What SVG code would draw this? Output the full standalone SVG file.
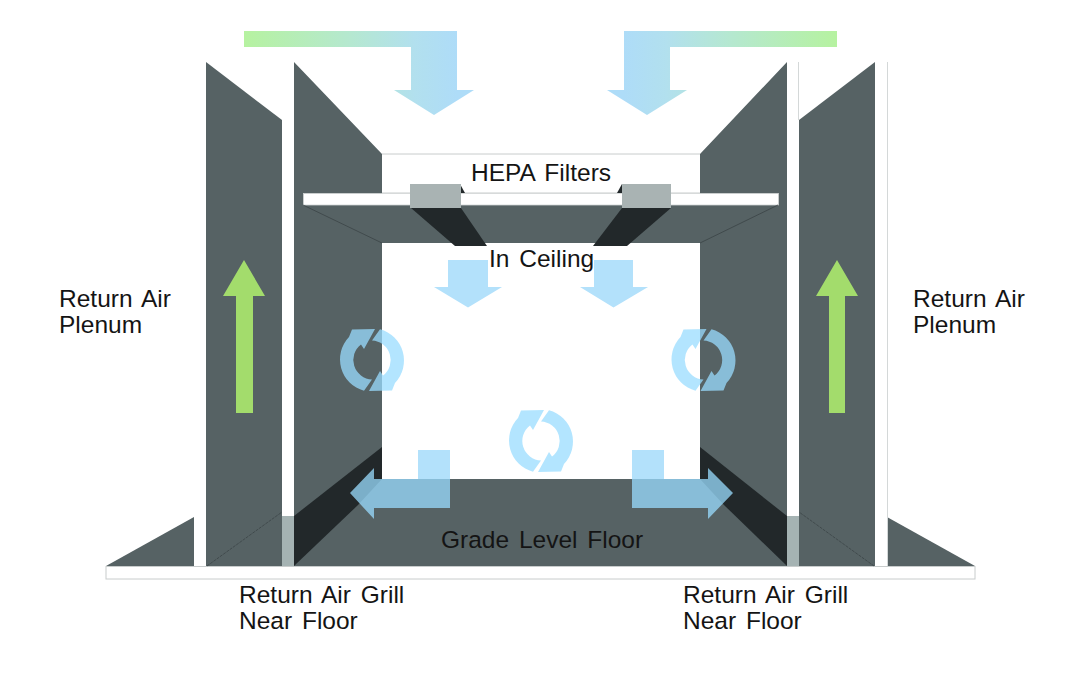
<svg xmlns="http://www.w3.org/2000/svg" width="1080" height="675" viewBox="0 0 1080 675">
<style>
.wall{fill:#566264}
.grill{fill:#22282a}
.seam{fill:none;stroke:#3b4446;stroke-width:.8}
.edge{fill:#fff;stroke:#c8cccc;stroke-width:1}
.blue{fill:#9adcff;fill-opacity:.75}
.solid{fill:#b3e1fb}
.green{fill:#a3dc6c}
.filter{fill:#a9b3b3}
.strip{fill:#a5b3b3}
text{font-family:"Liberation Sans",Arial,sans-serif;font-size:24.500px;fill:#141414;word-spacing:3px}
</style>
<defs>
<linearGradient id="gl" gradientUnits="userSpaceOnUse" x1="244" y1="0" x2="457" y2="0"><stop offset="0" stop-color="#b6f2a0"/><stop offset=".5" stop-color="#b5e8d0"/><stop offset=".8" stop-color="#b2e0ee"/><stop offset="1" stop-color="#aedcf8"/></linearGradient>
<linearGradient id="gr" gradientUnits="userSpaceOnUse" x1="837" y1="0" x2="624" y2="0"><stop offset="0" stop-color="#b6f2a0"/><stop offset=".5" stop-color="#b5e8d0"/><stop offset=".8" stop-color="#b2e0ee"/><stop offset="1" stop-color="#aedcf8"/></linearGradient>
<g id="ring" class="blue">
<path d="M-8 30.800A32.500 32.500 0 0 1-23-23L-20-30.500L3-31L-8-11L-11-15.500A19.500 19.500 0 0 0 0 19.500Z"/>
<path d="M-8 30.800A32.500 32.500 0 0 1-23-23L-20-30.500L3-31L-8-11L-11-15.500A19.500 19.500 0 0 0 0 19.500Z" transform="rotate(180)"/>
</g>
</defs>
<g id="floor-slab"><rect class="edge" x="106" y="566.500" width="869" height="12.500"/></g>
<g id="back-wall"><path d="M382 154H700" stroke="#c8cccc" fill="none"/><path d="M382 193H700" stroke="#c8cccc" fill="none"/></g>
<g id="left-outer-triangle"><path class="wall" d="M106 566L194 517V566Z"/></g>
<g id="right-outer-triangle"><path class="wall" d="M975 566L887 517V566Z"/></g>
<g id="left-plenum"><path class="wall" d="M206 62L282 120V566H206Z"/><path class="seam" stroke-dasharray="3 1" d="M207 566L282 512"/></g>
<g id="right-plenum"><path class="wall" d="M875 62L799 120V566H875Z"/><path class="seam" stroke-dasharray="3 1" d="M874 566L799 512"/></g>
<g id="left-wall"><path class="wall" d="M294 62L382 154V479H450V566H294Z"/></g>
<g id="right-wall"><path class="wall" d="M787 62L700 154V479H632V566H787Z"/></g>
<g id="floor"><path class="wall" d="M382 479H700V566H382Z"/></g>
<g id="left-grill"><path class="grill" d="M382 447L294 516V566L358 505L382 479Z"/><rect class="strip" x="282" y="516" width="12" height="50"/></g>
<g id="right-grill"><path class="grill" d="M700 447L787 516V566L724 505L700 479Z"/><rect class="strip" x="787" y="516" width="12" height="50"/></g>
<g id="ceiling"><path class="wall" d="M382 205H700V243H382Z"/><rect x="303.500" y="193.500" width="475" height="11.500" fill="#fff" stroke="#d0d4d4" stroke-width=".8"/><path class="seam" d="M303 205L382 243M778 205L700 243"/></g>
<g id="left-filter"><path class="grill" d="M411 208H461L487 246H455Z"/><path class="grill" d="M460 184L465 193H460Z"/><rect class="filter" x="410" y="184" width="51" height="24"/></g>
<g id="right-filter"><path class="grill" d="M622 208H671L627 246H593Z"/><path class="grill" d="M622 184L617 193H622Z"/><rect class="filter" x="622" y="184" width="49" height="24"/></g>
<g id="rights-line"><path d="M798.500 62V120M887.500 62V566" stroke="#d4d8d8" fill="none"/></g>
<g id="connectors">
<path fill="url(#gl)" d="M244 31H457V90H474L434 115L394 90H411V47H244Z"/>
<path fill="url(#gr)" d="M837 31H624V90H607L647 115L687 90H670V47H837Z"/>
<path class="solid" d="M448 260H488V287H502L468 307.500L434 287H448Z"/>
<path class="solid" d="M594 260H633V287H648L613.500 307.500L580 287H594Z"/>
<path class="green" d="M236 413V296H223L244 260L265 296H253V413Z"/>
<path class="green" d="M829 413V296H816L837 260L858 296H845V413Z"/>
<rect class="solid" x="418" y="450" width="32" height="29"/>
<rect class="solid" x="632" y="450" width="32" height="29"/>
<path class="blue" d="M450 479V508H374V519L350 493L374 468V479Z"/>
<path class="blue" d="M632 479V508H708V519L733 493L708 468V479Z"/>
<use href="#ring" x="372" y="360"/>
<use href="#ring" x="703.500" y="360"/>
<use href="#ring" x="541" y="441"/>
</g>
<g id="labels">
<text x="471" y="181">HEPA Filters</text>
<text x="489" y="267">In Ceiling</text>
<text x="59" y="307">Return Air</text>
<text x="59" y="333">Plenum</text>
<text x="913" y="307">Return Air</text>
<text x="913" y="333">Plenum</text>
<text x="441" y="548">Grade Level Floor</text>
<text x="239" y="603">Return Air Grill</text>
<text x="239" y="629">Near Floor</text>
<text x="683" y="603">Return Air Grill</text>
<text x="683" y="629">Near Floor</text>
</g>
</svg>
